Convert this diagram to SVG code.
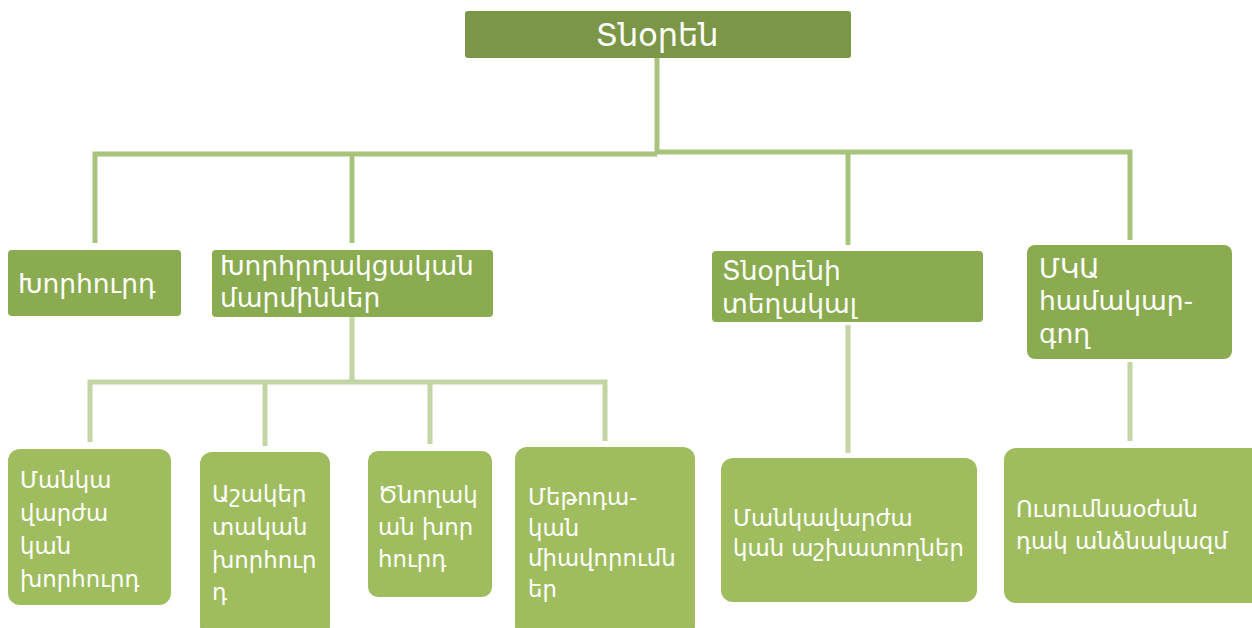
<svg xmlns="http://www.w3.org/2000/svg" width="1252" height="628" viewBox="0 0 1252 628">
<style>
.t{font-family:"DejaVu Sans","Noto Sans",sans-serif;fill:#ffffff;font-size:22.8px}
.m{font-size:26.5px}
.top{fill:#7b9646}
.l2{fill:#8aab4f}
.l3{fill:#9fbd5f}
.c1{stroke:#a8c47c;stroke-width:5;fill:none}
.c2{stroke:#c2d5a2;stroke-width:5;fill:none}
</style>
<rect width="1252" height="628" fill="#ffffff"/>
<g id="connectors">
<path class="c1" d="M657 58 V153"/>
<path class="c1" d="M95 243 V154 H657"/>
<path class="c1" d="M657 152 H1130 V240"/>
<path class="c1" d="M352 154 V243"/>
<path class="c1" d="M848 153 V245"/>
<path class="c2" d="M352 317 V382"/>
<path class="c2" d="M90 442 V382 H605 V441"/>
<path class="c2" d="M265 382 V446"/>
<path class="c2" d="M430 382 V444"/>
<path class="c2" d="M848 325 V453"/>
<path class="c2" d="M1130 362 V441"/>
</g>
<g id="n-root"><rect class="top" x="465" y="11" width="386" height="47" rx="3"/><text class="t" x="657" y="46" text-anchor="middle" style="font-size:32px">Տնօրեն</text></g>
<g id="n-khorhurd"><rect class="l2" x="8" y="250" width="173" height="66" rx="4"/><text class="t m" x="18" y="293">Խորհուրդ</text></g>
<g id="n-khorhrdakcakan"><rect class="l2" x="212" y="250" width="281" height="67" rx="4"/><text class="t m" x="220" y="275">Խորհրդակցական</text><text class="t m" x="220" y="307">մարմիններ</text></g>
<g id="n-tegakal"><rect class="l2" x="712" y="251" width="271" height="71" rx="4"/><text class="t m" x="722" y="280">Տնօրենի</text><text class="t m" x="722" y="313">տեղակալ</text></g>
<g id="n-mka"><rect class="l2" x="1027" y="245" width="205" height="114" rx="8"/><text class="t m" x="1039" y="278">ՄԿԱ</text><text class="t m" x="1039" y="310">համակար-</text><text class="t m" x="1039" y="343">գող</text></g>
<g id="n-mankavarzhakan"><rect class="l3" x="8" y="449" width="163" height="156" rx="12"/><text class="t" x="20" y="488">Մանկա</text><text class="t" x="20" y="521">վարժա</text><text class="t" x="20" y="554">կան</text><text class="t" x="20" y="587">խորհուրդ</text></g>
<g id="n-ashakertakan"><rect class="l3" x="200" y="452" width="130" height="186" rx="12"/><text class="t" x="212" y="502">Աշակեր</text><text class="t" x="212" y="535">տական</text><text class="t" x="212" y="568">խորհուր</text><text class="t" x="212" y="600">դ</text></g>
<g id="n-tsnoghakan"><rect class="l3" x="368" y="451" width="124" height="146" rx="10"/><text class="t" x="378" y="503">Ծնողակ</text><text class="t" x="378" y="535">ան խոր</text><text class="t" x="378" y="567">հուրդ</text></g>
<g id="n-metodakan"><rect class="l3" x="515" y="447" width="180" height="191" rx="12"/><text class="t" x="528" y="505">Մեթոդա-</text><text class="t" x="528" y="536">կան</text><text class="t" x="528" y="566">միավորումն</text><text class="t" x="528" y="597">եր</text></g>
<g id="n-ashkhatoghner"><rect class="l3" x="721" y="458" width="256" height="144" rx="12"/><text class="t" x="733" y="526">Մանկավարժա</text><text class="t" x="733" y="556">կան աշխատողներ</text></g>
<g id="n-usumnaozhandak"><rect class="l3" x="1004" y="448" width="260" height="155" rx="12"/><text class="t" x="1016" y="517">Ուսումնաօժան</text><text class="t" x="1016" y="549">դակ անձնակազմ</text></g>
</svg>
